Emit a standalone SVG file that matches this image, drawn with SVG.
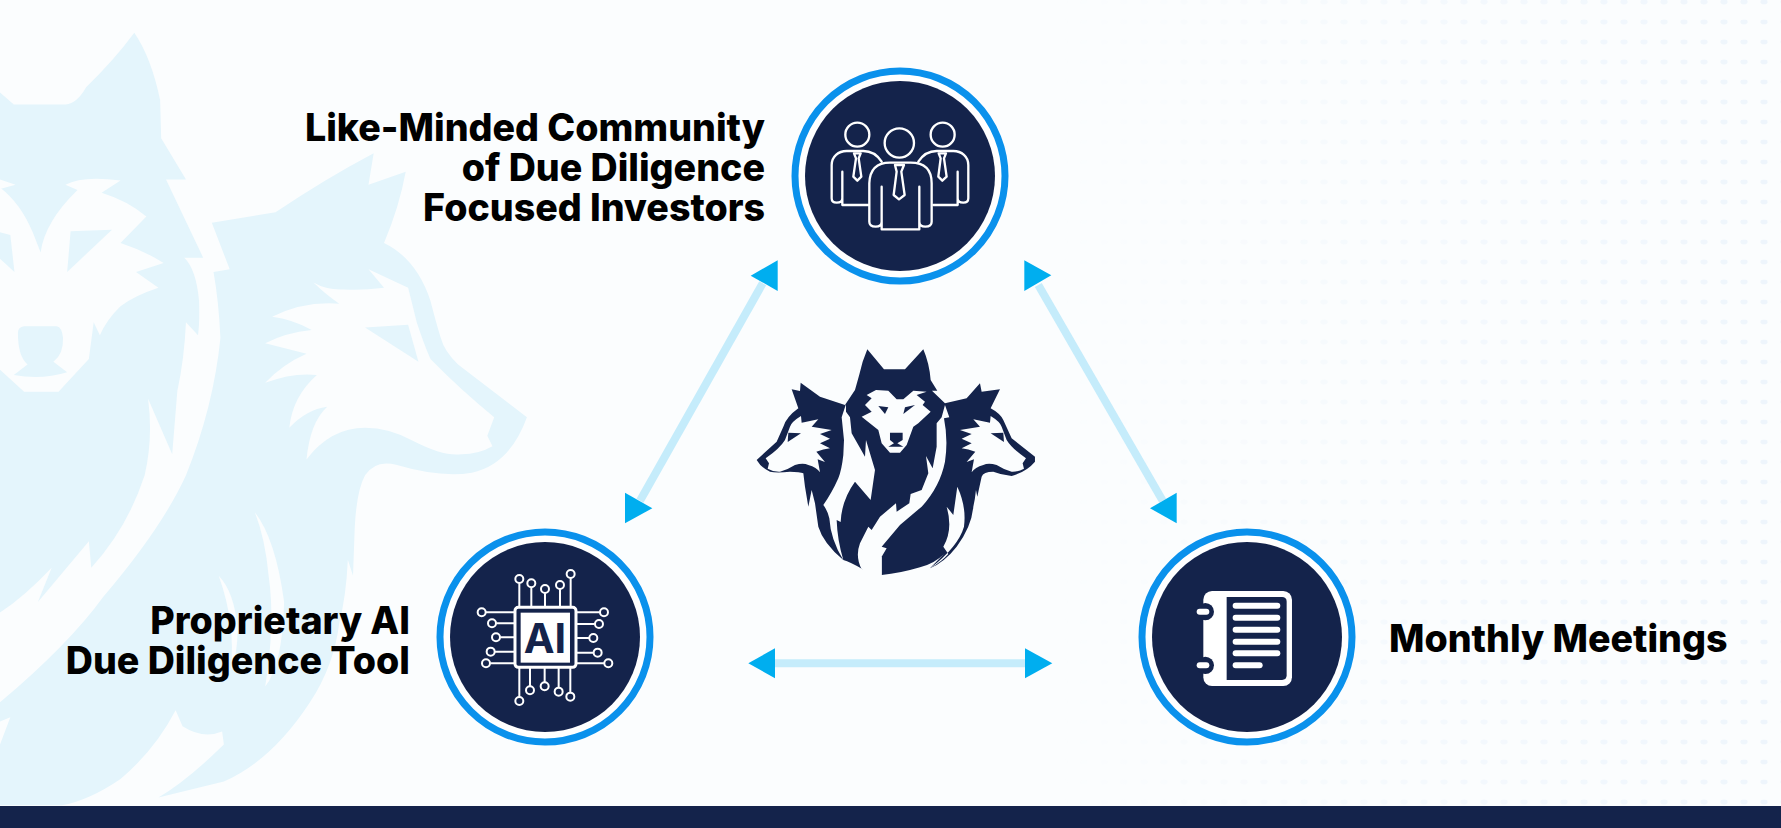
<svg xmlns="http://www.w3.org/2000/svg" width="1781" height="828" viewBox="0 0 1781 828">
<style>
.bgw{fill:#E4F5FC}.bgc{fill:#FBFDFE}
.ring{fill:#fff;stroke:#0A91EC;stroke-width:7}.core{fill:#14234B}
.label{font-family:Inter,"Liberation Sans",sans-serif;font-weight:800;font-size:37.6px;fill:#000}
.ln{stroke:#C5ECFB;stroke-width:8;fill:none}.tri{fill:#00AEEF}
.ic{fill:none;stroke:#fff;stroke-width:7;stroke-linejoin:round;stroke-linecap:round}
.pin{fill:none;stroke:#fff;stroke-width:6}
.nv{fill:#14234B}.wh{fill:#FBFDFE}.fw{fill:#fff}
</style>
<defs>
<pattern id="dots" width="20" height="20" patternUnits="userSpaceOnUse" x="4" y="2"><ellipse cx="0" cy="0" rx="3.6" ry="2.4" fill="#EEF5FC"/><ellipse cx="20" cy="0" rx="3.6" ry="2.4" fill="#EEF5FC"/><ellipse cx="0" cy="20" rx="3.6" ry="2.4" fill="#EEF5FC"/><ellipse cx="20" cy="20" rx="3.6" ry="2.4" fill="#EEF5FC"/></pattern>
<linearGradient id="fade"><stop offset="0" stop-color="#000"/><stop offset="1" stop-color="#fff"/></linearGradient>
<mask id="fm"><rect x="1060" y="0" width="721" height="806" fill="url(#fade)"/></mask>
<g id="sideFace">
<path class="wh" d="M752 258Q780 275 785 290L800 330Q815 355 858 385L848 400L852 416Q835 426 815 425Q790 418 770 405Q745 398 730 405Q705 412 695 427L702 388L680 396L706 365Q685 358 665 355L695 340L665 326L695 312L660 300L720 290L700 268L750 278Z"/>
<polygon class="nv" points="752,310 790,308 792,336"/>
</g>
</defs>
<rect width="1781" height="828" fill="#FBFDFE"/>
<rect x="1060" y="0" width="721" height="806" fill="url(#dots)" mask="url(#fm)"/>

<g id="background-wolf" transform="scale(.3444 .5281)">
<path class="bgw" d="M0 175L40 198H190Q225 195 250 165Q330 115 390 62Q440 110 465 190L468 262L540 340H482L590 488H535Q570 510 578 570Q580 610 575 635L540 610Q535 680 515 740L500 860L430 755Q445 830 420 900Q370 1000 265 1075L258 1025L110 1140L150 1075Q70 1130 0 1160Z"/>
<path class="bgw" d="M615 422L800 402Q940 340 1085 290L1070 350L1178 325Q1160 390 1115 460Q1210 490 1250 570Q1270 620 1280 640Q1290 665 1330 690L1530 790Q1480 880 1370 895Q1280 905 1150 880Q1090 870 1060 900Q1035 930 1030 1000L1025 1090L1010 1060Q1005 1130 985 1180Q970 1260 900 1330Q790 1440 650 1480L460 1510Q540 1480 650 1410L645 1385Q590 1400 530 1375L510 1345Q450 1420 350 1475Q260 1515 180 1525L0 1525V1410L30 1358L0 1366V1330Q200 1220 300 1130Q470 1000 540 900Q620 770 640 640Q635 570 620 515L667 510Z"/>
<path class="bgc" d="M0 355Q60 385 95 440L118 478Q130 420 225 360L190 350Q240 332 350 342L295 365Q370 380 425 410L350 460Q420 475 475 498L395 515L460 545Q390 560 350 580Q310 605 290 635L272 610L258 680L170 742H70L0 700Z"/>
<polygon class="bgc" points="0,340 45,350 0,358"/>
<polygon class="bgw" points="205,438 325,435 195,515"/>
<polygon class="bgw" points="0,440 30,445 42,515 0,490"/>
<path class="bgw" d="M52 630Q52 620 70 618H165Q180 620 183 640Q185 670 155 685L195 705Q120 720 40 710L80 690Q52 675 52 630Z"/>
<path class="bgc" d="M910 535Q950 560 985 575Q880 570 790 600Q850 605 905 625Q830 630 770 650L890 670Q820 690 770 725Q850 705 920 710Q850 750 840 810Q890 775 950 770Q900 800 890 870Q960 810 1060 810Q1130 810 1200 835Q1290 865 1340 860Q1390 860 1430 845L1415 825L1435 790Q1340 740 1250 680Q1230 650 1210 610L1185 545L1070 510L1115 545Q1050 550 1000 548Q950 550 910 535Z"/>
<polygon class="bgw" points="1060,620 1185,615 1215,685"/>
<path class="bgc" d="M740 970Q800 1020 825 1140Q820 1260 770 1300Q800 1180 780 1090Q770 1020 740 970Z"/>
<path class="bgc" d="M635 1090Q680 1120 690 1190Q690 1240 670 1270Q685 1180 635 1090Z"/>
</g>

<g id="connectors">
<line class="ln" x1="762.7" y1="283.3" x2="640" y2="500.7"/>
<polygon class="tri" points="750.7,275.7 777.7,260.3 777.7,291"/>
<polygon class="tri" points="625,492.7 625,523.3 652.3,508.3"/>
<line class="ln" x1="1038.3" y1="285" x2="1162.7" y2="500.7"/>
<polygon class="tri" points="1024.3,260.3 1024.3,291 1051.3,275.3"/>
<polygon class="tri" points="1150,508.3 1176.7,492.7 1176.7,523.3"/>
<line class="ln" x1="775" y1="663.3" x2="1025" y2="663.3"/>
<polygon class="tri" points="748.3,663.3 775,648.3 775,678.3"/>
<polygon class="tri" points="1025,648.3 1025,678.3 1052.3,663.3"/>
</g>

<g id="node-community">
<circle class="ring" cx="900" cy="176" r="105"/><circle class="core" cx="900" cy="176" r="95"/>
<g transform="translate(780 50) scale(.3333)">
<circle class="ic" cx="232" cy="254" r="36"/><circle class="ic" cx="488" cy="254" r="36"/><circle class="ic" cx="358" cy="279" r="44"/>
<path class="ic" d="M305 335C290 312 270 303 250 303H200C175 303 155 320 155 345V445Q155 458 170 458Q187 458 187 445V365M187 445V465H265"/>
<path class="ic" d="M415 335C430 312 450 303 470 303H520C545 303 565 320 565 345V445Q565 458 550 458Q533 458 533 445V365M533 445V465H460"/>
<path class="ic" d="M305 410V515Q305 530 287 530Q268 530 268 515V400Q270 338 330 338H392Q455 338 455 400V515Q455 530 436 530Q418 530 418 515V410M305 515V538H418V515"/>
<polygon class="ic" points="222,310 242,310 236,325 244,380 232,392 220,380 228,325"/>
<polygon class="ic" points="476,310 498,310 492,325 500,380 487,392 475,380 482,325"/>
<polygon class="ic" points="345,345 372,345 364,365 374,435 357,448 341,435 350,365"/>
</g>
<text class="label" text-anchor="end"><tspan x="765" y="141">Like-Minded Community</tspan><tspan x="765" y="181">of Due Diligence</tspan><tspan x="765" y="221">Focused Investors</tspan></text>
</g>

<g id="node-ai">
<circle class="ring" cx="545" cy="637" r="105"/><circle class="core" cx="545" cy="637" r="95"/>
<g transform="translate(430 520) scale(.3333)">
<rect x="255" y="262" width="183" height="180" rx="10" fill="none" stroke="#fff" stroke-width="9"/>
<rect class="fw" x="272" y="278" width="148" height="150"/>
<text x="345" y="398" text-anchor="middle" font-family="Inter,'Liberation Sans',sans-serif" font-weight="700" font-size="124" fill="#14234B">AI</text>
<path class="pin" d="M268 262V190M304 262V203M345 262V220M390 262V208M422 262V175M168 277H255M199 310H255M211 352H255M195 395H255M181 430H255M509 277H438M494 312H438M477 354H438M490 398H438M522 430H438M268 442V530M300 442V498M344 442V486M386 442V502M421 442V517"/>
<g class="pin">
<circle cx="268" cy="177" r="12"/><circle cx="304" cy="190" r="12"/><circle cx="345" cy="207" r="12"/><circle cx="390" cy="195" r="12"/><circle cx="422" cy="162" r="12"/>
<circle cx="155" cy="277" r="12"/><circle cx="186" cy="310" r="12"/><circle cx="198" cy="352" r="12"/><circle cx="182" cy="395" r="12"/><circle cx="168" cy="430" r="12"/>
<circle cx="522" cy="277" r="12"/><circle cx="507" cy="312" r="12"/><circle cx="490" cy="354" r="12"/><circle cx="503" cy="398" r="12"/><circle cx="535" cy="430" r="12"/>
<circle cx="268" cy="543" r="12"/><circle cx="300" cy="511" r="12"/><circle cx="344" cy="499" r="12"/><circle cx="386" cy="515" r="12"/><circle cx="421" cy="530" r="12"/>
</g>
</g>
<text class="label" text-anchor="end"><tspan x="410" y="634">Proprietary AI</tspan><tspan x="410" y="674">Due Diligence Tool</tspan></text>
</g>

<g id="node-meetings">
<circle class="ring" cx="1247" cy="637" r="105"/><circle class="core" cx="1247" cy="637" r="95"/>
<g transform="translate(1130 520) scale(.3333)">
<rect class="fw" x="220" y="213" width="266" height="285" rx="26"/>
<path class="nv" d="M290 231H456Q470 231 470 245V466Q470 480 456 480H290Z"/>
<circle class="nv" cx="226" cy="275" r="26"/><circle class="nv" cx="226" cy="436" r="26"/>
<rect class="fw" x="200" y="266" width="38" height="18" rx="9"/><rect class="fw" x="200" y="427" width="38" height="18" rx="9"/>
<rect class="fw" x="308" y="248" width="143" height="18" rx="9"/><rect class="fw" x="308" y="284" width="143" height="18" rx="9"/><rect class="fw" x="308" y="320" width="143" height="18" rx="9"/><rect class="fw" x="308" y="356" width="143" height="18" rx="9"/><rect class="fw" x="308" y="391" width="143" height="18" rx="9"/><rect class="fw" x="308" y="427" width="90" height="18" rx="9"/>
</g>
<text class="label" x="1389" y="652">Monthly Meetings</text>
</g>

<g id="node-wolves" transform="translate(740 330) scale(.3333)">
<path class="nv" d="M382 58L432 118H495L550 58Q568 100 572 150L592 182H576L615 220L680 205L720 160L725 185L780 178L752 235Q780 250 790 270L815 325L885 380V395Q860 425 815 438Q785 435 760 425Q730 425 725 440L712 500L708 480Q705 510 700 530Q695 590 650 650Q615 695 570 715L612 672Q585 700 540 712Q480 730 425 735V680L368 718Q330 695 310 690Q250 640 235 590L225 520L215 480L205 530L195 470L190 430Q180 425 150 425Q110 430 90 425Q65 415 50 390L110 335L130 290Q140 260 175 235L155 178L180 183L182 158L240 200L315 225L345 180Q358 135 368 95Z"/>
<path class="wh" d="M408 180L445 182L470 208H490L520 182L560 185L530 195L555 215L548 225L572 245L535 280L520 290L500 345L480 368H450L425 340L415 300L365 260L395 245L375 225L395 205L380 195Z"/>
<polygon class="nv" points="415,228 445,232 435,252"/><polygon class="nv" points="525,225 495,232 490,252"/>
<polygon class="nv" points="450,308 488,308 488,330 472,340 490,350 445,350 462,340 450,330"/>
<path class="wh" d="M318 222L305 262L312 330L310 375Q305 420 295 445Q275 490 250 525Q262 540 268 565Q272 630 310 690Q292 630 290 570L302 576Q305 510 345 455L392 510L405 420L378 330L375 380L335 310L330 262L318 245Z"/>
<path class="wh" d="M365 718Q345 680 360 640L385 590L395 600L420 560L468 520L470 545L508 520L512 492L545 480L565 430L558 378L578 415L590 350V280L605 262L615 225L628 262L612 265Q625 330 615 395Q600 470 545 530L480 585L425 650L440 655L425 680L425 735Z"/>
<path class="wh" d="M652 470Q680 530 672 590Q655 650 570 715Q605 695 625 672L610 650Q640 600 620 530L640 555Z"/>
<use href="#sideFace"/>
<use href="#sideFace" transform="matrix(-1 0 0 1 935 0)"/>
</g>

<rect id="footer-bar" x="0" y="806" width="1781" height="22" fill="#14234B"/>
</svg>
